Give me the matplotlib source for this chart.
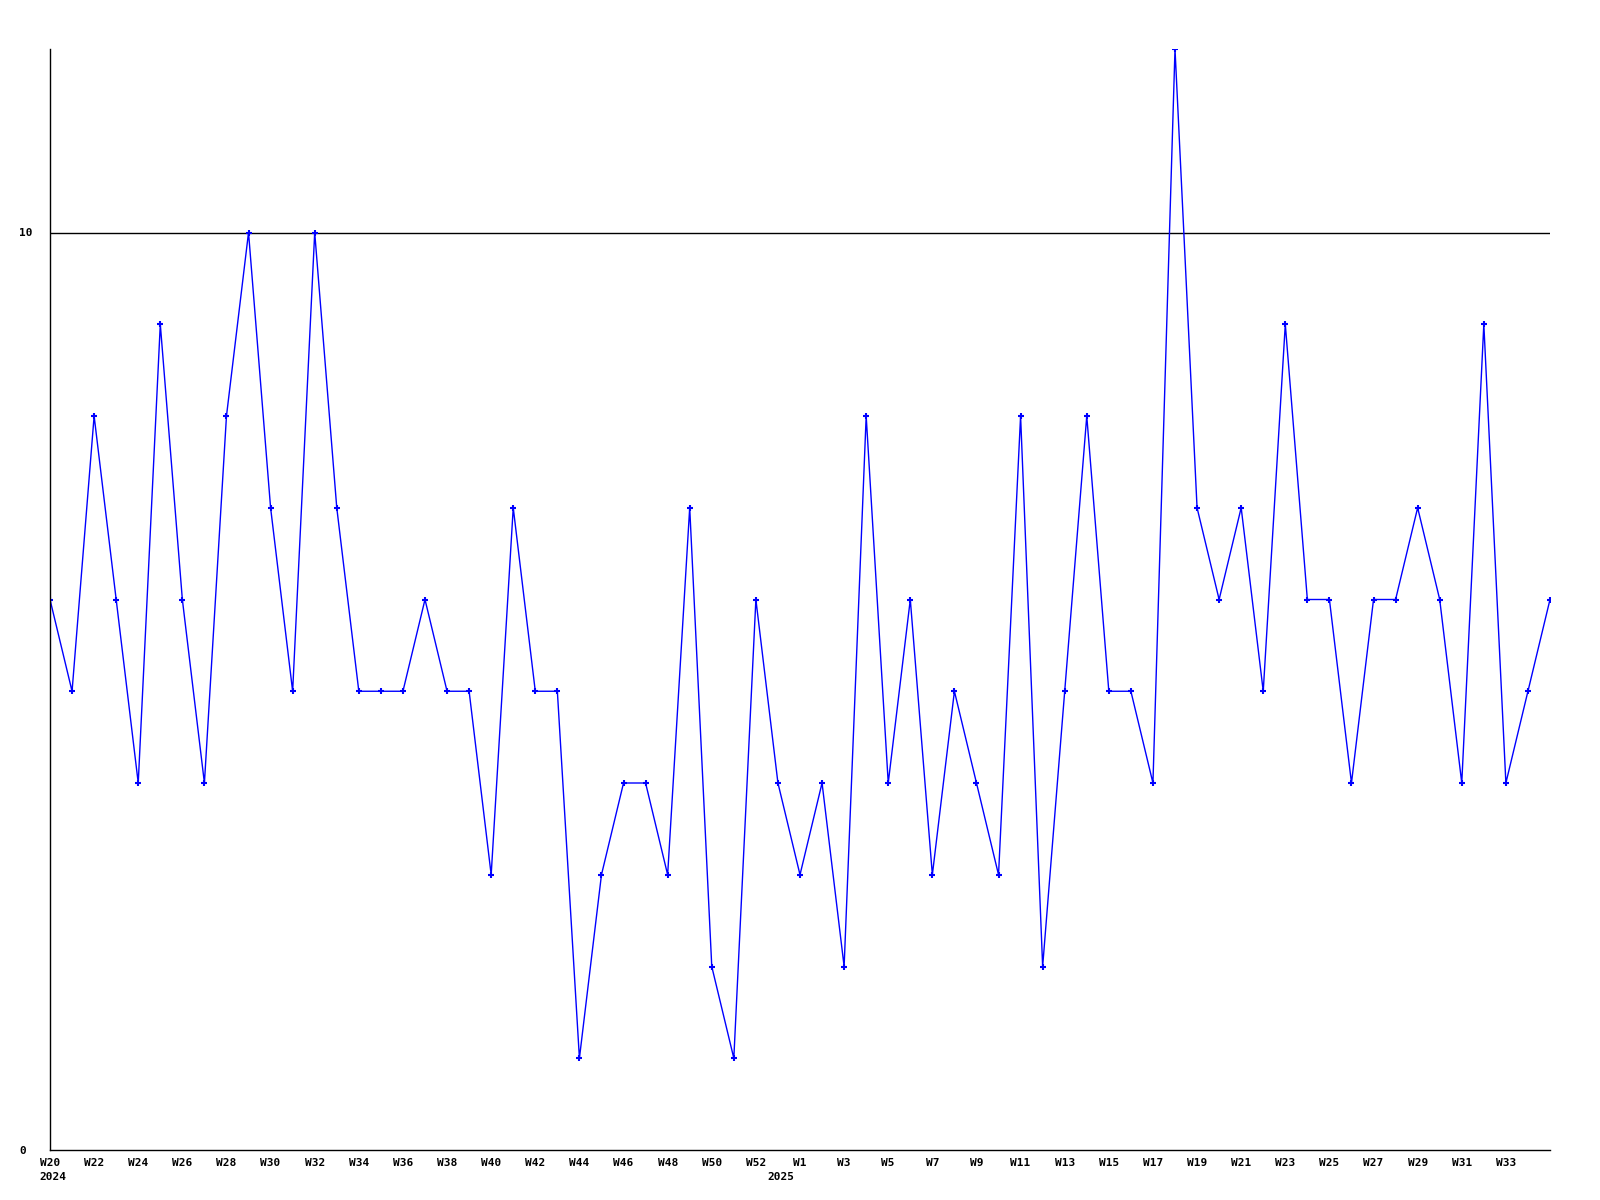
import matplotlib
matplotlib.use("Agg")

import matplotlib.pyplot as plt

# weekly counts, W20 2024 .. W35 2025 (2024 has a W53)
weeks_2024 = [f"W{w}" for w in range(20, 54)]
weeks_2025 = [f"W{w}" for w in range(1, 36)]
weeks = weeks_2024 + weeks_2025

values = [
    6, 5, 8, 6, 4, 9, 6, 4, 8, 10,
    7, 5, 10, 7, 5, 5, 5, 6, 5, 5,
    3, 7, 5, 5, 1, 3, 4, 4, 3, 7,
    2, 1, 6, 4,
    3, 4, 2, 8, 4, 6, 3, 5, 4, 3,
    8, 2, 5, 8, 5, 5, 4, 12, 7, 6,
    7, 5, 9, 6, 6, 4, 6, 6, 7, 6,
    4, 9, 4, 5, 6,
]
# year captions and the week index they sit under
year_labels = ["2024", "2025"]
year_at = [0, 33]
ref_level = 10

font = dict(family="DejaVu Sans Mono", fontweight="bold", fontsize=8)

fig = plt.figure(figsize=(16, 12), dpi=100)
ax = fig.add_axes([50 / 1600, 50 / 1200, 1500 / 1600, 1101 / 1200])

x = list(range(len(values)))
ax.plot(x, values, color="#0000ff", lw=1, marker="+", ms=4, mew=1.5)
ax.axhline(ref_level, color="black", lw=1, zorder=0)

ax.set_xlim(0, len(values) - 1)
ax.set_ylim(0, 12)

for s in ["top", "right"]:
    ax.spines[s].set_visible(False)
for s in ["left", "bottom"]:
    ax.spines[s].set_linewidth(1)

ax.set_yticks([0, 10])
ax.set_yticklabels(["0", "10"], ha="left", **font)
ax.tick_params(axis="y", length=0, pad=22)

tick_pos = x[:-1:2]
ax.set_xticks(tick_pos)
ax.set_xticklabels([weeks[i] for i in tick_pos], **font)
ax.tick_params(axis="x", length=0, pad=6)

for lab, i in zip(year_labels, year_at):
    ax.annotate(lab, (i, 0), xycoords=("data", "axes fraction"),
                xytext=(2, -16), textcoords="offset points",
                ha="center", va="top", **font)

fig.savefig("out.png", dpi=100)
